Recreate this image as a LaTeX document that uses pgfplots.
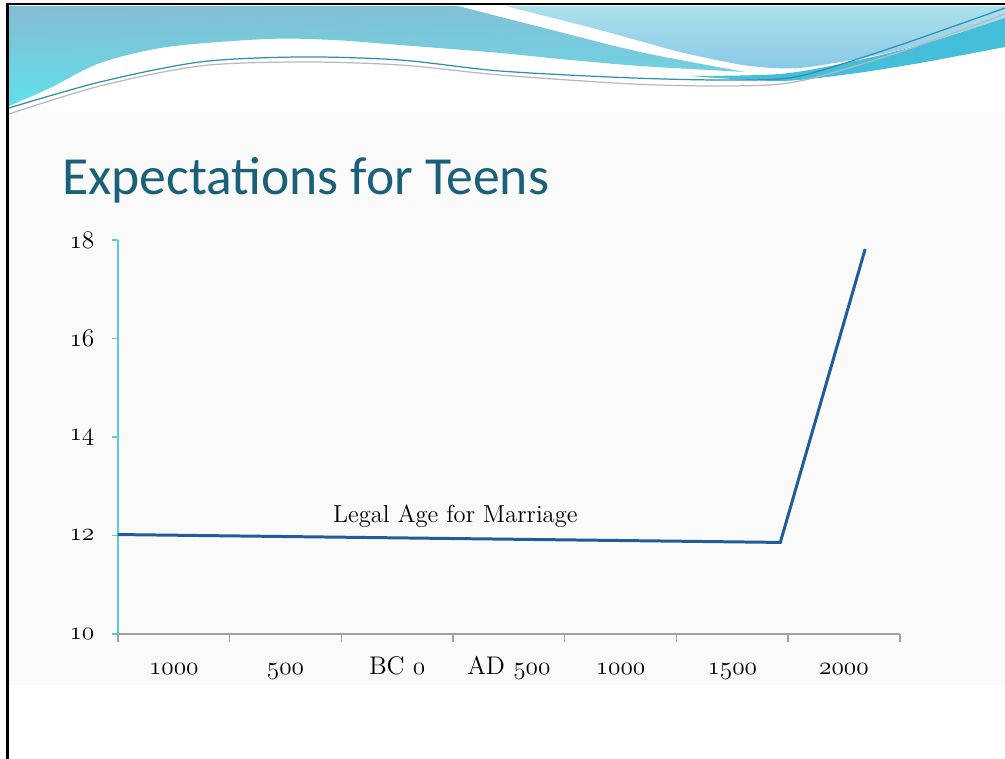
\documentclass[border=0pt]{standalone}
\usepackage{fontspec}
\usepackage{pgfplots}
\pgfplotsset{compat=1.18}
\usetikzlibrary{shadings}
\newfontfamily\titlefont{Carlito}
\newcommand\osn[1]{\ensuremath{\mathnormal{#1}}}
\definecolor{titleteal}{HTML}{1B6079}
\definecolor{axcyan}{HTML}{5BC9DE}
\definecolor{axgray}{HTML}{A0A0A0}
\definecolor{linecol}{HTML}{1F5C99}
\definecolor{bgsoft}{HTML}{FAFAFA}
\definecolor{wblue}{HTML}{86BCD3}
\definecolor{wcyan}{HTML}{5FE0EA}
\definecolor{lblue}{HTML}{ADE0EA}
\definecolor{lblue2}{HTML}{88C8E8}
\definecolor{tealband}{HTML}{45BEDC}
\definecolor{thinline}{HTML}{2E8FB0}
\begin{document}
\begin{tikzpicture}[x=0.02cm,y=0.02cm]
\useasboundingbox (0,0) rectangle (1005,759);
\fill[white] (0,0) rectangle (1005,759);
\begin{scope}[shift={(0,759)},yscale=-1]
  % soft background band
  \fill[bgsoft] (9,112) rectangle (1005,685);
  % right light region
  \shade[top color=lblue,bottom color=lblue2]
    plot[smooth] coordinates {(505,6) (600,30) (680,52) (742,65)}
    -- plot[smooth] coordinates {(742,65) (800,68) (900,50) (1005,18)}
    -- (1005,6) -- cycle;
  % left wave region
  \shade[upper left=wblue,upper right=wblue!80!wcyan,lower left=wcyan,lower right=wcyan!70!wblue]
    (9,6) -- (458,6)
    -- plot[smooth] coordinates {(458,6) (540,27) (640,52) (745,72)}
    -- plot[smooth] coordinates {(745,72) (640,66) (560,59) (500,53) (400,45) (333,40) (267,39) (167,47) (100,63) (50,88) (9,106)}
    -- cycle;
  % teal band
  \fill[tealband]
    plot[smooth] coordinates {(690,76) (780,74) (850,62) (920,45) (1005,18)}
    -- (1005,47)
    -- plot[smooth] coordinates {(1005,47) (920,63) (850,74) (780,81) (690,76)}
    -- cycle;
  % thin lines
  \draw[gray!55,line width=0.7pt]
    plot[smooth] coordinates {(9,114) (100,86) (200,66) (300,62) (400,65) (500,75) (633,84) (733,86) (800,81) (900,52) (1005,14)};
  \draw[thinline,line width=0.7pt]
    plot[smooth] coordinates {(9,108) (100,82) (200,62) (300,57) (400,60) (500,71) (633,78) (733,80) (800,76) (900,45) (1005,8)};
  % frame
  \fill[black] (6,4) rectangle (9,759);
  \fill[black] (6,3) rectangle (1005,5.5);
  % title
  \node[anchor=base west,inner sep=0pt,text=titleteal,font=\titlefont\fontsize{30.5}{36}\selectfont] at (62,195) {Expectations for Teens};
\end{scope}
\begin{axis}[
  at={(2.36cm,2.5cm)}, anchor=origin,
  scale only axis, width=15.64cm, height=7.88cm,
  xmin=0, xmax=7, ymin=10, ymax=18,
  axis lines*=left,
  x axis line style={axgray, line width=0.8pt},
  y axis line style={axcyan, line width=0.8pt},
  xtick={0,1,2,3,4,5,6,7},
  x tick label as interval,
  xticklabels={\osn{1000},\osn{500},BC \osn{0},AD \osn{500},\osn{1000},\osn{1500},\osn{2000}},
  ytick={10,12,14,16,18},
  yticklabels={\osn{10},\osn{12},\osn{14},\osn{16},\osn{18}},
  tick align=outside,
  xtick style={axgray, line width=0.8pt, /pgfplots/major tick length=0.16cm},
  ytick style={axcyan, line width=0.8pt, /pgfplots/major tick length=0.12cm},
  xticklabel style={font=\fontsize{14.5}{16}\selectfont, text height=0.34cm, text depth=0.1cm, yshift=-0.2cm},
  yticklabel style={font=\fontsize{14.5}{16}\selectfont, xshift=-0.2cm},
  clip=false,
]
\addplot[linecol, line width=1.7pt, mark=none] coordinates {(0,12.02) (5.93,11.86) (6.69,17.82)};
\node[font=\fontsize{14}{16}\selectfont, anchor=base] at (axis cs:3.02,12.26) {Legal Age for Marriage};
\end{axis}
\end{tikzpicture}
\end{document}
